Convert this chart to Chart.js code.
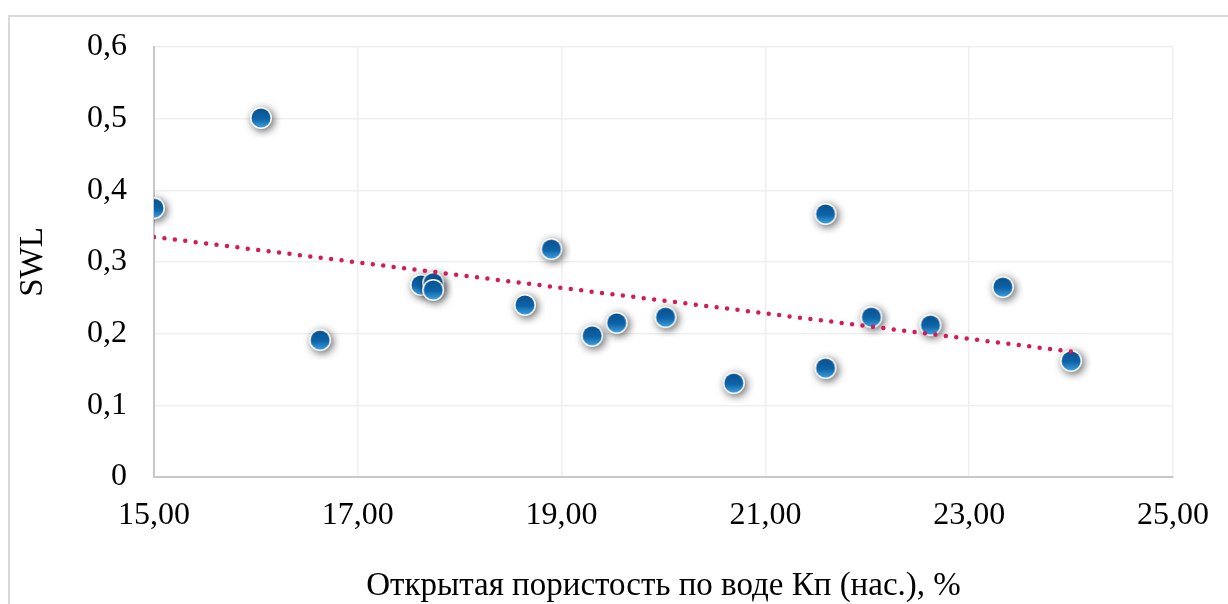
<!DOCTYPE html>
<html>
<head>
<meta charset="utf-8">
<script src="https://cdn.jsdelivr.net/npm/chart.js@4"></script>
<style>
  html, body { margin: 0; padding: 0; background: #fff; overflow: hidden; }
  #wrap { position: relative; width: 1228px; height: 604px; }
  #frame { position: absolute; left: 8px; top: 15px; width: 1260px; height: 640px; border: 2px solid #d9d9d9; box-sizing: border-box; }
  canvas { position: absolute; left: 0; top: 0; }
</style>
</head>
<body>
<div id="wrap">
  <div id="frame"></div>
  <canvas id="chart" width="1228" height="604"></canvas>
</div>
<script>
// porosity, % and SWL
const porosity = [15.00, 16.05, 16.63, 17.62, 17.74, 17.74, 18.64, 18.90, 19.30, 19.54, 20.02, 20.69, 21.59, 21.59, 22.04, 22.62, 23.33, 24.00]
const swl = [0.375, 0.501, 0.191, 0.268, 0.271, 0.261, 0.240, 0.318, 0.197, 0.215, 0.223, 0.131, 0.367, 0.152, 0.223, 0.212, 0.265, 0.162]
// linear trend line ends
const trendX = [15.00, 24.00]
const trendY = [0.335, 0.175]
const xTicks = [15, 17, 19, 21, 23, 25]
const yTicks = [0, 0.1, 0.2, 0.3, 0.4, 0.5, 0.6]

const FONT = "'Liberation Serif', 'Times New Roman', serif"

// marker: blue ball with white rim and soft shadow
function makeMarker() {
  const size = 40
  const c = document.createElement("canvas")
  c.width = size
  c.height = size
  const g = c.getContext("2d")
  const cx = size / 2, cy = size / 2
  g.save()
  g.shadowColor = "rgba(0,0,0,0.65)"
  g.shadowBlur = 8
  g.shadowOffsetX = 2
  g.shadowOffsetY = 2
  g.beginPath()
  g.arc(cx, cy, 11, 0, Math.PI * 2)
  g.fillStyle = "#ffffff"
  g.fill()
  g.restore()
  const grad = g.createLinearGradient(0, cy - 9, 0, cy + 9)
  grad.addColorStop(0, "#0a5290")
  grad.addColorStop(0.55, "#0d64a8")
  grad.addColorStop(1, "#3a9ad8")
  g.beginPath()
  g.arc(cx, cy, 9.5, 0, Math.PI * 2)
  g.fillStyle = grad
  g.fill()
  return c
}

const commaFmt = (v, d) => Number(v).toFixed(d).replace(".", ",")

const config = {
  type: "scatter",
  data: {
    datasets: [
      {
        type: "line",
        data: trendX.map((x, i) => ({ x: x, y: trendY[i] })),
        borderColor: "#d31a5b",
        borderWidth: 4.5,
        borderDash: [0, 10.5],
        borderCapStyle: "round",
        pointRadius: 0,
        fill: false,
        order: 0,
      },
      {
        data: porosity.map((x, i) => ({ x: x, y: swl[i] })),
        pointStyle: makeMarker(),
        order: 1,
      },
    ],
  },
  options: {
    responsive: false,
    animation: false,
    events: [],
    layout: { padding: { left: 0, top: 47, right: 55, bottom: 0 } },
    plugins: { legend: { display: false }, tooltip: { enabled: false } },
    scales: {
      x: {
        type: "linear",
        min: 15,
        max: 25,
        afterBuildTicks: (axis) => { axis.ticks = xTicks.map((v) => ({ value: v })) },
        afterFit: (axis) => { axis.height = 127 },
        grid: { color: "#efefef", lineWidth: 1.5, drawTicks: false },
        border: { color: "#c8c8c8", width: 2 },
        ticks: {
          color: "#000",
          font: { family: FONT, size: 32 },
          padding: 19,
          callback: (v) => commaFmt(v, 2),
        },
        title: {
          display: true,
          text: "Открытая пористость по воде Кп (нас.), %",
          color: "#000",
          font: { family: FONT, size: 33 },
          padding: { top: 0, bottom: -2 },
        },
      },
      y: {
        min: 0,
        max: 0.6,
        afterBuildTicks: (axis) => { axis.ticks = yTicks.map((v) => ({ value: v })) },
        afterFit: (axis) => { axis.width = 154 },
        grid: { color: "#efefef", lineWidth: 1.5, drawTicks: false },
        border: { color: "#c8c8c8", width: 2 },
        ticks: {
          color: "#000",
          font: { family: FONT, size: 32 },
          padding: 27,
          callback: (v) => (v === 0 ? "0" : commaFmt(v, 1)),
        },
        title: {
          display: true,
          text: "SWL",
          color: "#000",
          font: { family: FONT, size: 33 },
          padding: { top: 14, bottom: 0 },
        },
      },
    },
  },
}

new Chart(document.getElementById("chart"), config)
</script>
</body>
</html>
